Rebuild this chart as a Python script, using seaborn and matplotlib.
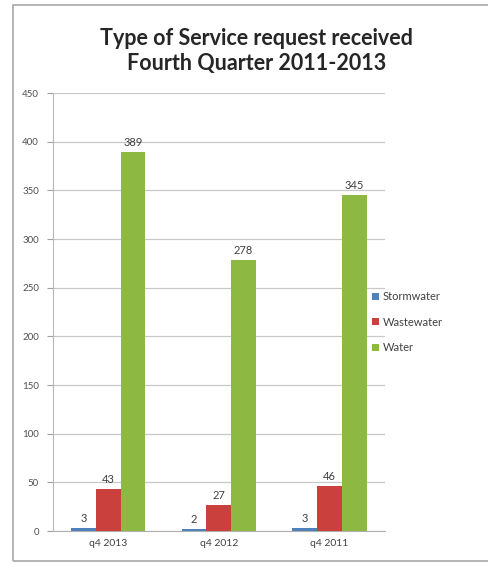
import matplotlib
matplotlib.use("Agg")
import matplotlib.pyplot as plt
import seaborn as sns
import pandas as pd
from matplotlib.patches import Rectangle

quarters = ["q4 2013", "q4 2012", "q4 2011"]
service_types = ["Stormwater", "Wastewater", "Water"]
stormwater = [3, 2, 3]
wastewater = [43, 27, 46]
water = [389, 278, 345]
y_ticks = [0, 50, 100, 150, 200, 250, 300, 350, 400, 450]

palette = {"Stormwater": "#4F81BD", "Wastewater": "#C9403D", "Water": "#8DB842"}

rows = []
for name, vals in zip(service_types, [stormwater, wastewater, water]):
    for q, v in zip(quarters, vals):
        rows.append({"Quarter": q, "Type": name, "Requests": v})
df = pd.DataFrame(rows)

sns.set_theme(style="white")
plt.rcParams["font.family"] = ["Lato", "DejaVu Sans"]

fig = plt.figure(figsize=(4.89, 5.63), dpi=100)
ax = fig.add_axes([0.108, 0.0568, 0.679, 0.778])

sns.barplot(data=df, x="Quarter", y="Requests", hue="Type", order=quarters,
            hue_order=service_types, palette=palette, width=0.67, gap=0,
            saturation=1, errorbar=None, ax=ax, zorder=3, linewidth=0,
            edgecolor="none")

for container in ax.containers:
    ax.bar_label(container, fmt="%d", padding=3, fontsize=8, color="#404040")

ax.set_ylim(0, 450)
ax.set_yticks(y_ticks)
ax.set_yticklabels([str(t) for t in y_ticks], fontsize=7, color="#505050")
ax.tick_params(axis="x", labelsize=7.5, colors="#404040", length=0, pad=6)
ax.tick_params(axis="y", length=4, width=0.8, color="#a0a0a0", left=True, pad=6)
ax.yaxis.grid(True, color="#c8c8c8", linewidth=0.9, zorder=0)
ax.set_axisbelow(True)
ax.set_xlabel("")
ax.set_ylabel("")
for side in ["top", "right"]:
    ax.spines[side].set_visible(False)
ax.spines["left"].set_color("#b8b8b8")
ax.spines["bottom"].set_color("#b0b0b0")
ax.spines["left"].set_linewidth(0.8)
ax.spines["bottom"].set_linewidth(0.8)

handles, labels = ax.get_legend_handles_labels()
ax.legend_.remove()
fig.legend(handles, labels, loc="center left", bbox_to_anchor=(0.74, 0.428),
           frameon=False, fontsize=8, handlelength=0.6, handleheight=0.6,
           handletextpad=0.4, labelspacing=1.3, labelcolor="#404040")

fig.text(0.525, 0.91, "Type of Service request received\nFourth Quarter 2011-2013",
         ha="center", va="center", fontsize=15.5, fontweight="bold",
         color="#262626", linespacing=1.25)

fig.patches.append(Rectangle((0.0266, 0.0036), 1.0, 0.9875, transform=fig.transFigure,
                             fill=False, edgecolor="#a8a8a8", linewidth=1.2))

fig.savefig("out.png", dpi=100, facecolor="white")
